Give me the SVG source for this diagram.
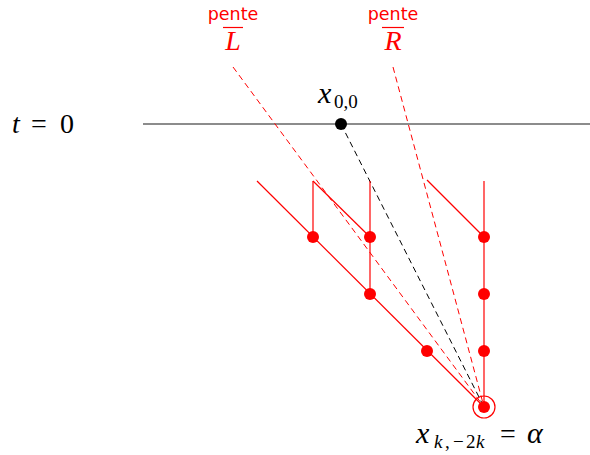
<svg xmlns="http://www.w3.org/2000/svg" width="590" height="455" viewBox="0 0 590 455">
<style>
.s{stroke:#ff0000;stroke-width:1.2;fill:none}
.d{stroke:#ff0000;stroke-width:1;fill:none;stroke-dasharray:6 4}
.k{stroke:#000;stroke-width:1;fill:none;stroke-dasharray:6 4}
.dot{fill:#ff0000}
.m{font-family:"Liberation Serif","DejaVu Serif",serif;font-size:28px}
.it{font-style:italic}
.sub{font-size:19px}
.p{font-family:"DejaVu Sans","Liberation Sans",sans-serif;font-size:17.5px;fill:#ff0000}
</style>
<rect width="590" height="455" fill="#fff"/>
<g id="axis">
<line x1="143" y1="124" x2="590" y2="124" stroke="#666" stroke-width="1.5"/>
<text y="133" class="m"><tspan x="12" class="it">t</tspan><tspan x="31">=</tspan><tspan x="60">0</tspan></text>
</g>
<g id="connectors">
<line class="d" x1="233" y1="67" x2="484" y2="407"/>
<line class="d" x1="393" y1="67" x2="484" y2="407"/>
<line class="k" x1="341" y1="124" x2="484" y2="407"/>
<line class="s" x1="257" y1="181" x2="484" y2="407"/>
<line class="s" x1="313" y1="181" x2="313" y2="237"/>
<line class="s" x1="313" y1="181" x2="370" y2="237"/>
<line class="s" x1="370" y1="181" x2="370" y2="294"/>
<line class="s" x1="427" y1="180" x2="484" y2="237"/>
<line class="s" x1="484" y1="181" x2="484" y2="407"/>
</g>
<g id="x00">
<circle cx="341" cy="124" r="6" fill="#000"/>
<text class="m"><tspan x="318" y="103" class="it" font-size="30">x</tspan><tspan x="334" y="108" class="sub">0,0</tspan></text>
</g>
<g id="n1"><circle class="dot" cx="313" cy="237" r="6"/></g>
<g id="n2"><circle class="dot" cx="370" cy="237" r="6"/></g>
<g id="n3"><circle class="dot" cx="484" cy="237" r="6"/></g>
<g id="n4"><circle class="dot" cx="370" cy="294" r="6"/></g>
<g id="n5"><circle class="dot" cx="484" cy="294" r="6"/></g>
<g id="n6"><circle class="dot" cx="427" cy="351" r="6"/></g>
<g id="n7"><circle class="dot" cx="484" cy="351" r="6"/></g>
<g id="alpha">
<circle class="dot" cx="484" cy="407" r="6"/>
<circle cx="484" cy="407" r="11" fill="none" stroke="#ff0000" stroke-width="1.2"/>
<text class="m"><tspan x="416" y="443" class="it" font-size="30">x</tspan><tspan y="448" class="sub"><tspan x="434" class="it">k</tspan><tspan x="445">,</tspan><tspan x="453">−</tspan><tspan x="466">2</tspan><tspan x="476" class="it">k</tspan></tspan><tspan x="500" y="443">=</tspan><tspan x="527" y="443" class="it" font-size="30">α</tspan></text>
</g>
<g id="penteL">
<text x="233" y="20" class="p" text-anchor="middle">pente</text>
<line x1="223" y1="27.5" x2="243" y2="27.5" stroke="#ff0000" stroke-width="1.2"/>
<text x="233" y="50" class="m it" fill="#ff0000" text-anchor="middle">L</text>
</g>
<g id="penteR">
<text x="393" y="20" class="p" text-anchor="middle">pente</text>
<line x1="382" y1="27.5" x2="404" y2="27.5" stroke="#ff0000" stroke-width="1.2"/>
<text x="393" y="50" class="m it" fill="#ff0000" text-anchor="middle">R</text>
</g>
</svg>
